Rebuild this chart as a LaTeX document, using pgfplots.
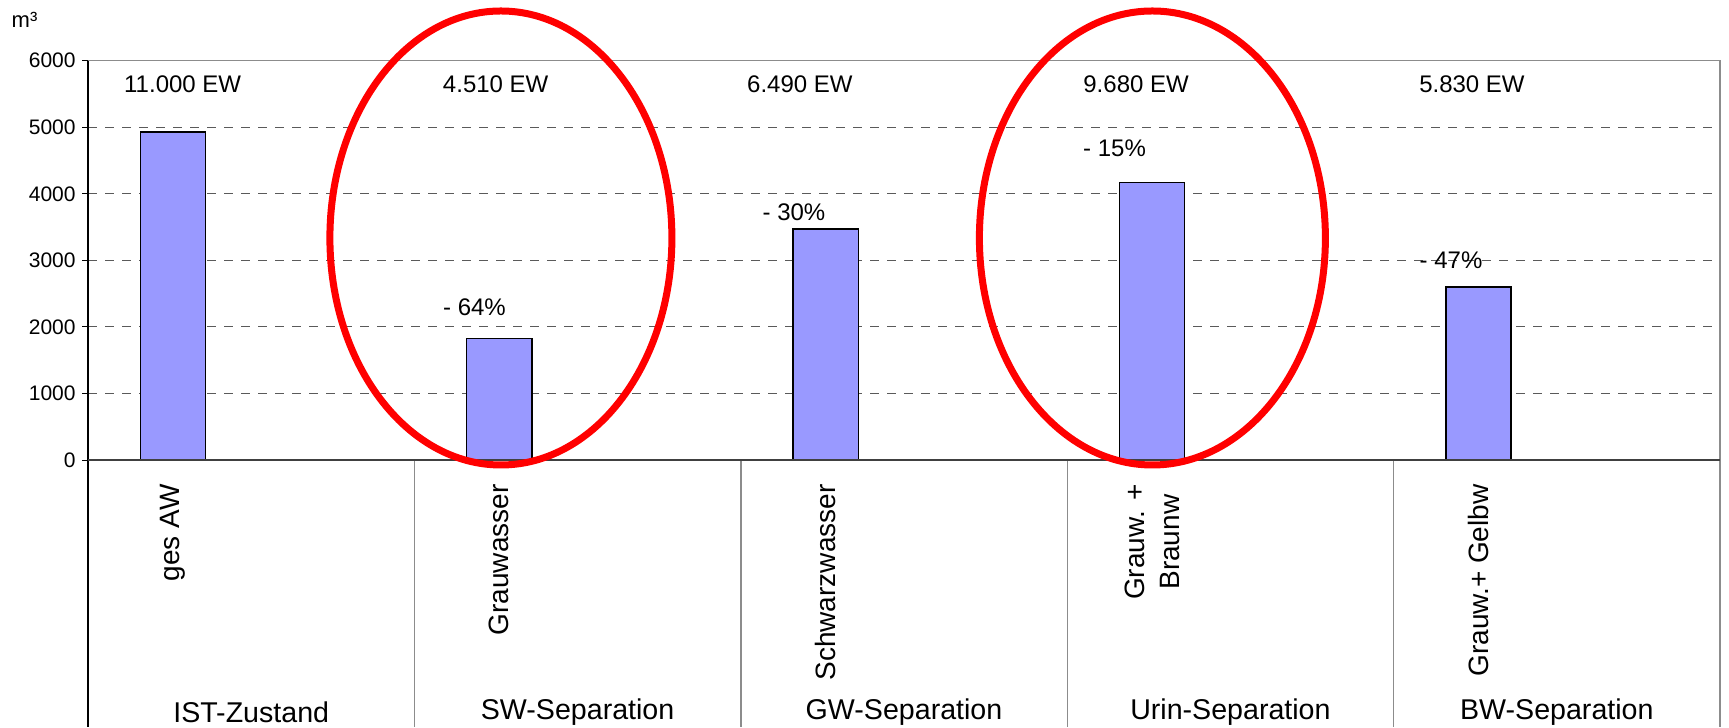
\documentclass[border=0pt]{standalone}
\usepackage{fontspec}
\setmainfont{Liberation Sans}
\usepackage{pgfplots}
\pgfplotsset{compat=1.18}
\definecolor{barblue}{HTML}{9999FF}
\definecolor{gridgray}{HTML}{5A5A5A}
\definecolor{framegray}{HTML}{8C8C8C}
\definecolor{axisgray}{HTML}{404040}
\definecolor{ellred}{HTML}{FF0000}
\begin{document}
\begin{tikzpicture}
\begin{axis}[
  name=ax,
  width=816pt, height=199.65pt, scale only axis,
  xmin=0, xmax=5, ymin=0, ymax=6000,
  clip=false,
  axis line style={draw=none},
  ytick={0,1000,2000,3000,4000,5000,6000},
  ytick pos=left,
  ytick style={draw=black, line width=0.5pt},
  major tick length=3pt,
  tick align=outside,
  scaled y ticks=false,
  /pgf/number format/assume math mode=true,
  /pgf/number format/1000 sep={},
  yticklabel style={font=\fontsize{10.5}{12}\selectfont, inner sep=0pt},
  yticklabel shift=3pt,
  ymajorgrids,
  grid style={dash pattern=on 4.5pt off 4pt, gridgray, line width=0.5pt},
  xtick={0.26,1.26,2.26,3.26,4.26},
  xticklabels={ges AW, Grauwasser, Schwarzwasser, {Grauw. +\\Braunw}, Grauw.+ Gelbw},
  xtick style={draw=none},
  xtick pos=bottom,
  xticklabel style={rotate=90, anchor=east, align=center, font=\fontsize{14}{17.5}\selectfont, inner sep=0pt},
  xticklabel shift=9pt,
]
\addplot[ybar, bar width=0.2, bar shift=0pt, fill=barblue, draw=black, line width=0.7pt]
  coordinates {(0.26,4930) (1.26,1830) (2.26,3470) (3.26,4170) (4.26,2600)};

% frame
\draw[framegray, line width=0.7pt] (rel axis cs:0,1) -- (rel axis cs:1,1) -- (rel axis cs:1,0) -- ++(0,-133.5pt);
\draw[framegray, line width=0.7pt] (axis cs:1,0) -- ++(0,-133.5pt);
\draw[framegray, line width=0.7pt] (axis cs:2,0) -- ++(0,-133.5pt);
\draw[framegray, line width=0.7pt] (axis cs:3,0) -- ++(0,-133.5pt);
\draw[framegray, line width=0.7pt] (axis cs:4,0) -- ++(0,-133.5pt);
\draw[black, line width=0.7pt] (rel axis cs:0,1) -- (rel axis cs:0,0) -- ++(0,-133.5pt);
\draw[axisgray, line width=0.9pt] (rel axis cs:0,0) -- (rel axis cs:1,0);

% EW labels
\begin{scope}[every node/.style={font=\fontsize{12}{14}\selectfont}]
\node at (axis cs:0.290,5650) {11.000 EW};
\node at (axis cs:1.249,5650) {4.510 EW};
\node at (axis cs:2.181,5650) {6.490 EW};
\node at (axis cs:3.211,5650) {9.680 EW};
\node at (axis cs:4.240,5650) {5.830 EW};
\node at (axis cs:1.184,2292) {- 64\%};
\node at (axis cs:2.163,3727) {- 30\%};
\node at (axis cs:3.145,4688) {- 15\%};
\node at (axis cs:4.176,3005) {- 47\%};
\end{scope}

% group labels
\begin{scope}[every node/.style={font=\fontsize{14.3}{17}\selectfont}]
\node at (axis cs:0.5,0) [yshift=-126pt] {IST-Zustand};
\node at (axis cs:1.5,0) [yshift=-126pt] {SW-Separation};
\node at (axis cs:2.5,0) [yshift=-126pt] {GW-Separation};
\node at (axis cs:3.5,0) [yshift=-126pt] {Urin-Separation};
\node at (axis cs:4.5,0) [yshift=-126pt] {BW-Separation};
\end{scope}

\node[font=\fontsize{11}{13}\selectfont] at (rel axis cs:-0.0389,1.102) {m³};

% red ellipses
\draw[ellred, line width=3.5pt] (axis cs:1.265,3336) ellipse [x radius=85.5pt, y radius=113.5pt];
\draw[ellred, line width=3.5pt] (axis cs:3.261,3336) ellipse [x radius=86.5pt, y radius=113.5pt];
\end{axis}
\pgfresetboundingbox
\path ([xshift=-44pt,yshift=-133.5pt]ax.south west) rectangle ([xshift=4.5pt,yshift=30.35pt]ax.north east);
\end{tikzpicture}
\end{document}
